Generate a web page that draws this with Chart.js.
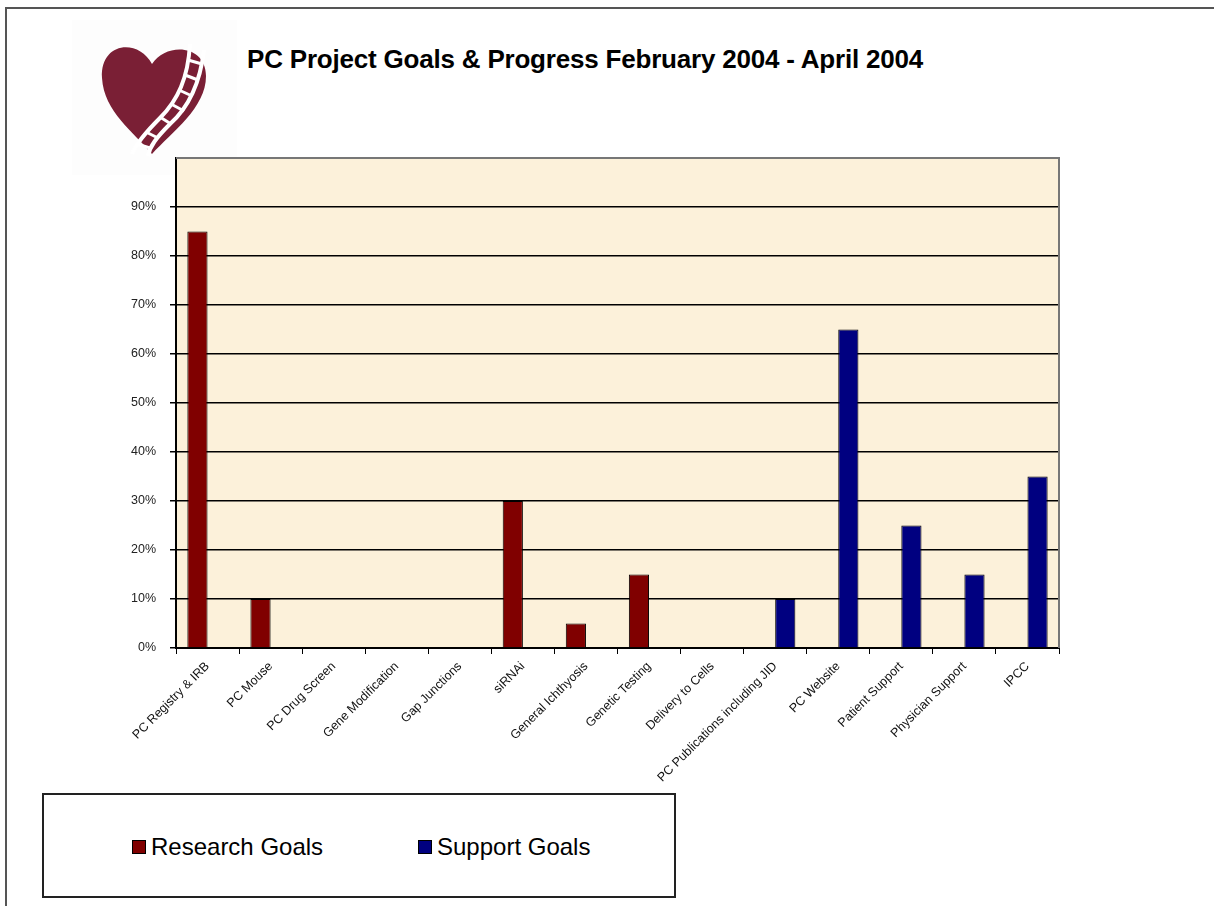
<!DOCTYPE html>
<html lang="en">
<head>
  <meta charset="UTF-8">
  <title>PC Project Goals & Progress</title>
  <script src="https://cdn.jsdelivr.net/npm/chart.js"></script>
  <style>
    body {
      margin: 0;
      width: 1214px;
      height: 906px;
      overflow: hidden;
      background: #fff;
      font-family: Arial, "Liberation Sans", sans-serif;
      position: relative;
    }

    .frame {
      position: absolute;
      left: 5px;
      top: 7px;
      width: 1220px;
      height: 910px;
      border-left: 2px solid #555;
      border-top: 2px solid #555;
    }

    .logo {
      position: absolute;
      left: 72px;
      top: 20px;
      width: 165px;
      height: 155px;
      background: #fdfdfd;
    }

    .title {
      position: absolute;
      left: 247px;
      top: 44px;
      font-size: 26px;
      line-height: 30px;
      font-weight: bold;
      color: #000;
      white-space: nowrap;
      letter-spacing: -0.2px;
    }

    .chart-box {
      position: absolute;
      left: 0;
      top: 0;
      width: 1214px;
      height: 906px;
    }

    .legend {
      position: absolute;
      left: 42px;
      top: 793px;
      width: 630px;
      height: 101px;
      border: 2px solid #222;
      background: #fff;
    }

    .legend-item {
      position: absolute;
      top: 38px;
      font-size: 24px;
      line-height: 28px;
      color: #000;
      white-space: nowrap;
    }

    .legend-item span.sw {
      display: inline-block;
      width: 12px;
      height: 12px;
      border: 1px solid #000;
      margin-right: 5px;
      vertical-align: 1px;
    }
  </style>
</head>
<body>
  <div class="frame"></div>
  <div class="logo">
    <svg width="165" height="155" viewBox="0 0 165 155">
      <path d="M80 44 C66 18 28 22 30 58 C32 92 62 112 80 134 C100 112 134 88 134 56 C134 24 94 22 80 44 Z" fill="#7a1f35"/>
      <path d="M118 24 C116 58 106 80 88 98 C72 114 64 124 60 134" stroke="#fff" stroke-width="4" fill="none"/>
      <path d="M132 30 C128 64 116 88 98 104 C84 118 78 126 76 136" stroke="#fff" stroke-width="4" fill="none"/>
      <g stroke="#fff" stroke-width="3">
        <line x1="116" y1="40" x2="130" y2="44"/>
        <line x1="113" y1="55" x2="126" y2="60"/>
        <line x1="107" y1="70" x2="120" y2="76"/>
        <line x1="99" y1="84" x2="112" y2="91"/>
        <line x1="88" y1="97" x2="99" y2="104"/>
        <line x1="74" y1="112" x2="86" y2="118"/>
        <line x1="65" y1="124" x2="78" y2="128"/>
      </g>
    </svg>
  </div>
  <div class="title">PC Project Goals &amp; Progress February 2004 - April 2004</div>

  <div class="chart-box">
    <canvas id="goals"></canvas>
  </div>

  <div class="legend" id="legend"></div>

  <script>
    // categories and progress (percent complete)
    const categories = [
      'PC Registry & IRB', 'PC Mouse', 'PC Drug Screen', 'Gene Modification',
      'Gap Junctions', 'siRNAi', 'General Ichthyosis', 'Genetic Testing',
      'Delivery to Cells', 'PC Publications including JID', 'PC Website',
      'Patient Support', 'Physician Support', 'IPCC'
    ];
    const researchGoals = [85, 10, 0, 0, 0, 30, 5, 15, 0, null, null, null, null, null];
    const supportGoals = [null, null, null, null, null, null, null, null, null, 10, 65, 25, 15, 35];
    const yTicks = [0, 10, 20, 30, 40, 50, 60, 70, 80, 90];

    const researchColor = '#800000';
    const supportColor = '#000080';

    // cream plot area + grey top/right border
    const plotArea = {
      id: 'plotArea',
      beforeDraw(chart) {
        const a = chart.chartArea;
        const ctx = chart.ctx;
        ctx.save();
        ctx.fillStyle = '#fcf1da';
        ctx.fillRect(a.left, a.top, a.right - a.left, a.bottom - a.top);
        ctx.restore();
      },
      afterDraw(chart) {
        const a = chart.chartArea;
        const ctx = chart.ctx;
        ctx.save();
        ctx.strokeStyle = '#777';
        ctx.lineWidth = 2;
        ctx.beginPath();
        ctx.moveTo(a.left, a.top);
        ctx.lineTo(a.right, a.top);
        ctx.lineTo(a.right, a.bottom);
        ctx.stroke();
        ctx.restore();
      }
    };

    const chart = new Chart(document.getElementById('goals'), {
      type: 'bar',
      data: {
        labels: categories,
        datasets: [
          {
            label: 'Research Goals',
            data: researchGoals,
            backgroundColor: researchColor,
            borderColor: '#000',
            borderWidth: 1,
            categoryPercentage: 0.64,
            barPercentage: 1.0
          },
          {
            label: 'Support Goals',
            data: supportGoals,
            backgroundColor: supportColor,
            borderColor: '#000',
            borderWidth: 1,
            categoryPercentage: 0.64,
            barPercentage: 1.0
          }
        ]
      },
      options: {
        responsive: true,
        maintainAspectRatio: false,
        animation: false,
        layout: {
          padding: { left: 100, right: 155, top: 158, bottom: 118 }
        },
        plugins: {
          legend: { display: false },
          tooltip: { enabled: false }
        },
        scales: {
          x: {
            afterFit: s => { s.height = 140; },
            grid: {
              offset: true,
              drawOnChartArea: false,
              drawTicks: true,
              tickLength: 6,
              tickColor: '#000',
              tickWidth: 1
            },
            border: { color: '#000', width: 2 },
            ticks: {
              autoSkip: false,
              minRotation: 45,
              maxRotation: 45,
              padding: 5,
              color: '#111',
              font: { family: 'Arial', size: 12.5 }
            }
          },
          y: {
            min: 0,
            max: 100,
            afterFit: s => { s.width = 76; },
            afterBuildTicks: s => {
              s.ticks = yTicks.concat([100]).map(v => ({ value: v }));
            },
            grid: {
              color: c => (c.tick && c.tick.value === 100) ? 'rgba(0,0,0,0)' : '#000',
              tickColor: c => (c.tick && c.tick.value === 100) ? 'rgba(0,0,0,0)' : '#000',
              lineWidth: 1.5,
              tickLength: 6
            },
            border: { color: '#000', width: 2 },
            ticks: {
              padding: 14,
              color: '#222',
              font: { family: 'Arial', size: 12.5 },
              callback: v => v === 100 ? '' : v + '%'
            }
          }
        }
      },
      plugins: [plotArea]
    });

    // legend box from the datasets
    const legendEl = document.getElementById('legend');
    const legendLeft = [88, 374];
    chart.data.datasets.forEach((ds, i) => {
      const item = document.createElement('div');
      item.className = 'legend-item';
      item.style.left = legendLeft[i] + 'px';
      item.innerHTML = `<span class="sw" style="background:${ds.backgroundColor}"></span>${ds.label}`;
      legendEl.appendChild(item);
    });
  </script>
</body>
</html>
